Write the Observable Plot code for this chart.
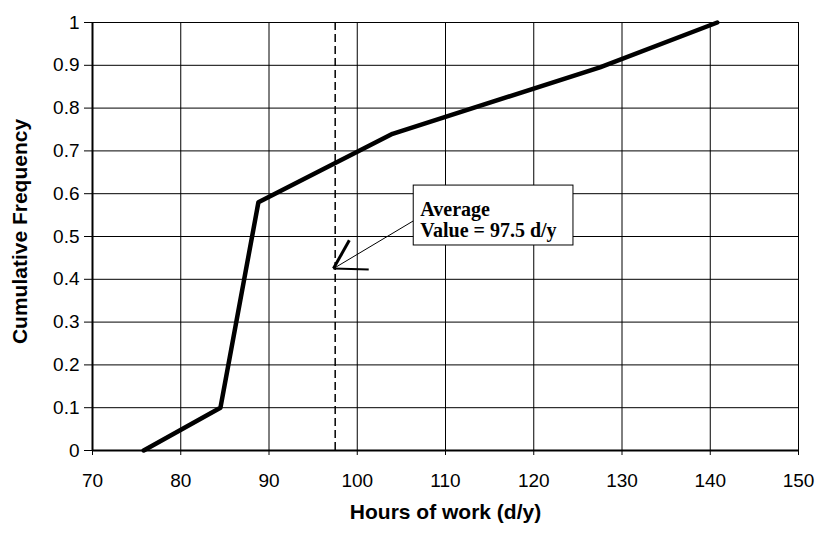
<!DOCTYPE html>
<html>
<head>
<meta charset="utf-8">
<script src="https://cdn.jsdelivr.net/npm/d3@7"></script>
<script src="https://cdn.jsdelivr.net/npm/@observablehq/plot@0.6"></script>
<style>
  html, body { margin: 0; padding: 0; background: #fff; }
  #chart svg { display: block; }
</style>
</head>
<body>
<div id="chart"></div>
<script>
// Cumulative frequency curve
const hours = [75.8, 84.5, 88.8, 104, 127.5, 140.8];
const cumFreq = [0, 0.1, 0.58, 0.74, 0.895, 1];

// Axis ticks
const xTicks = [70, 80, 90, 100, 110, 120, 130, 140, 150];
const yTicks = [0, 0.1, 0.2, 0.3, 0.4, 0.5, 0.6, 0.7, 0.8, 0.9, 1];

// Average marker and annotation
const averageValue = 97.5;
const noteLines = ["Average", "Value = 97.5 d/y"];
const noteLineY = [0.564, 0.513];
const noteX = 107.15;
const noteBox = [{x1: 106.4, x2: 124.5, y1: 0.479, y2: 0.619}];
const arrowShaft = [{x1: 106.4, y1: 0.537, x2: 97.3, y2: 0.425}];
const arrowArmA = [{x1: 97.3, y1: 0.425, x2: 99.1, y2: 0.491}];
const arrowArmB = [{x1: 97.3, y1: 0.425, x2: 101.3, y2: 0.423}];

const curve = hours.map((h, i) => ({h, f: cumFreq[i]}));
const notes = noteLines.map((t, i) => ({t, y: noteLineY[i]}));

const chart = Plot.plot({
  width: 818,
  height: 534,
  marginLeft: 92,
  marginRight: 20,
  marginTop: 22,
  marginBottom: 84,
  style: {fontFamily: "'Liberation Sans', Arial, sans-serif", background: "#fff", color: "#000"},
  x: {domain: [70, 150]},
  y: {domain: [0, 1]},
  marks: [
    Plot.ruleX(xTicks, {stroke: "#000", strokeWidth: 1}),
    Plot.ruleY(yTicks, {stroke: "#000", strokeWidth: 1}),
    Plot.ruleX([averageValue], {y1: 0, y2: 1, stroke: "#000", strokeWidth: 1.5, strokeDasharray: "8,4"}),
    Plot.axisX({ticks: xTicks, tickSize: 5, tickPadding: 18, fontSize: 19, label: "Hours of work (d/y)", labelAnchor: "center", labelArrow: "none", labelOffset: 68}),
    Plot.axisY({ticks: yTicks, tickSize: 8, tickPadding: 5, fontSize: 19, tickFormat: d => String(Math.round(d * 10) / 10), label: "Cumulative Frequency", labelAnchor: "center", labelArrow: "none", labelOffset: 80}),
    Plot.ruleX([70], {stroke: "#000", strokeWidth: 2}),
    Plot.ruleY([0], {stroke: "#000", strokeWidth: 2}),
    Plot.line(curve, {x: "h", y: "f", stroke: "#000", strokeWidth: 4.5, strokeLinejoin: "round"}),
    Plot.link(arrowShaft, {x1: "x1", y1: "y1", x2: "x2", y2: "y2", stroke: "#000", strokeWidth: 1}),
    Plot.link(arrowArmA, {x1: "x1", y1: "y1", x2: "x2", y2: "y2", stroke: "#000", strokeWidth: 3}),
    Plot.link(arrowArmB, {x1: "x1", y1: "y1", x2: "x2", y2: "y2", stroke: "#000", strokeWidth: 2}),
    Plot.rect(noteBox, {x1: "x1", x2: "x2", y1: "y1", y2: "y2", fill: "#fff", stroke: "#000", strokeWidth: 1}),
    Plot.text(notes, {x: noteX, y: "y", text: "t", textAnchor: "start", fontSize: 20, fontWeight: "bold", fontFamily: "'Liberation Serif', 'Times New Roman', serif", fill: "#000"})
  ]
});

// Bold axis titles
chart.querySelectorAll("[aria-label='x-axis label'] text, [aria-label='y-axis label'] text").forEach(t => {
  t.setAttribute("font-weight", "bold");
  t.setAttribute("font-size", "21");
});
// Nudge the y title slightly upward as in the reference
chart.querySelectorAll("[aria-label='y-axis label'] text").forEach(t => {
  const tr = t.getAttribute("transform") || "";
  t.setAttribute("transform", tr.replace(/translate\(([-\d.]+),\s*([-\d.]+)\)/, (m, a, b) => `translate(${a},${+b - 5})`));
});

document.getElementById("chart").appendChild(chart);
</script>
</body>
</html>
